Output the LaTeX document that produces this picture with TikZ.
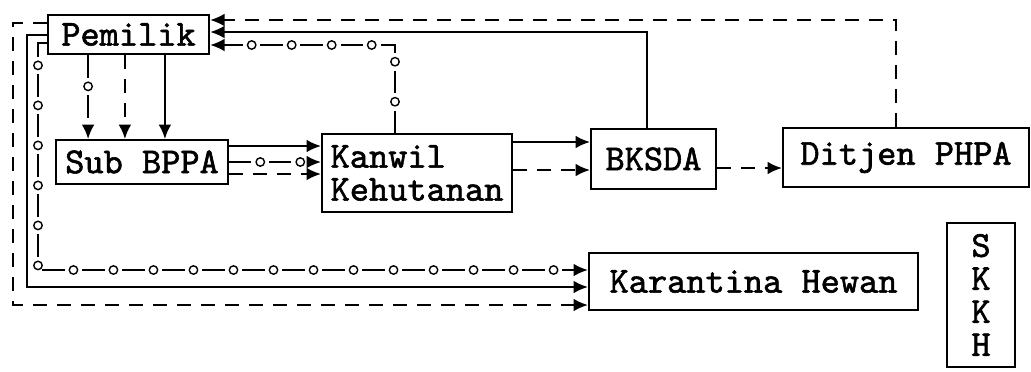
\documentclass[tikz,border=0pt]{standalone}
\usepackage{fontspec}
\newfontfamily\boxfont{lmmono10-regular.otf}[FakeBold=1.6]
\usetikzlibrary{arrows.meta, positioning, decorations.markings}

\begin{document}
\begin{tikzpicture}[
                x=0.025cm, y=-0.025cm,
                box/.style={draw, line width=1.5pt, inner sep=2pt, align=left, font=\boxfont\fontsize{26}{23.5}\selectfont},
                arr/.style={-{Latex[length=3.6mm, width=3.2mm]}, line width=1.4pt},
                arrdash/.style={arr, dash pattern=on 3.5mm off 2.5mm},
                arrcirc/.style={arr, dash pattern=on 5.6mm off 4.4mm, postaction={decorate, decoration={markings, mark=between positions 7.8mm and -4mm step 10mm with {\draw[solid, line width=1pt] (0,0) circle (1.05mm);}}}}
            ]
                \useasboundingbox (0,0) rectangle (1031,371);
                \node[box, minimum width=4.03cm, minimum height=0.98cm] (pem) at (128.5, 34.5) {Pemilik};
                \node[box, minimum width=4.3cm, minimum height=1.1cm] (sub) at (142, 162) {Sub BPPA};
                \node[box, minimum width=4.75cm, minimum height=1.95cm] (kan) at (417, 173) {Kanwil\\Kehutanan};
                \node[box, minimum width=3.125cm, minimum height=1.5cm] (bks) at (653.5, 159) {BKSDA};
                \node[box, minimum width=6.15cm, minimum height=1.475cm] (dit) at (906, 157.5) {Ditjen PHPA};
                \node[box, minimum width=8.225cm, minimum height=1.425cm] (kar) at (753.5, 281.5) {Karantina Hewan};
                \node[box, align=center, minimum width=1.7cm, minimum height=3.6cm] (skkh) at (981, 295) {S\\K\\K\\H};
                % route corners
                \coordinate (dtop) at (896, 20);
                \coordinate (stop) at (647, 32);
                \coordinate (ctop) at (395, 45);
                \coordinate (dleft) at (13, 23);
                \coordinate (dbot) at (13, 305);
                \coordinate (sleft) at (27, 35);
                \coordinate (sbot) at (27, 287);
                \coordinate (cleft) at (38, 43);
                \coordinate (cbot) at (38, 270);
                % back to Pemilik
                \draw[arrdash] (dit.north -| dtop) |- (pem.east |- dtop);
                \draw[arr] (bks.north -| stop) |- (pem.east |- stop);
                \draw[arrcirc] (kan.north -| ctop) |- (pem.east |- ctop);
                % Pemilik to Karantina Hewan
                \draw[arrdash] (pem.west |- dleft) -- (dleft) -- (dbot) -- (kar.west |- dbot);
                \draw[arr] (pem.west |- sleft) -- (sleft) -- (sbot) -- (kar.west |- sbot);
                \draw[arrcirc] (pem.west |- cleft) -- (cleft) -- (cbot) -- (kar.west |- cbot);
                % Pemilik to Sub BPPA
                \draw[arrcirc] ([xshift=-1.01cm]pem.south) -- ([xshift=-1.01cm]pem.south |- sub.north);
                \draw[arrdash] ([xshift=-0.09cm]pem.south) -- ([xshift=-0.09cm]pem.south |- sub.north);
                \draw[arr] ([xshift=0.91cm]pem.south) -- ([xshift=0.91cm]pem.south |- sub.north);
                % Sub BPPA to Kanwil
                \draw[arr] ([yshift=0.4cm]sub.east) -- ([yshift=0.4cm]sub.east -| kan.west);
                \draw[arrcirc] (sub.east) -- (sub.east -| kan.west);
                \draw[arrdash] ([yshift=-0.3cm]sub.east) -- ([yshift=-0.3cm]sub.east -| kan.west);
                % Kanwil to BKSDA to Ditjen
                \draw[arr] ([yshift=0.425cm]bks.west -| kan.east) -- ([yshift=0.425cm]bks.west);
                \draw[arrdash] ([yshift=-0.275cm]bks.west -| kan.east) -- ([yshift=-0.275cm]bks.west);
                \draw[arrdash] ([yshift=-0.225cm]bks.east) -- ([yshift=-0.225cm]bks.east -| dit.west);
            \end{tikzpicture}
\end{document}
